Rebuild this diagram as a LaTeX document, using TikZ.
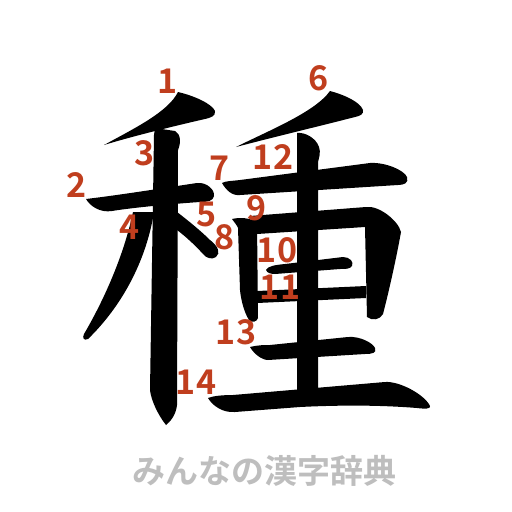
\documentclass[tikz,border=0pt]{standalone}
\usepackage{fontspec}
\newfontfamily\jpb{Noto Sans CJK JP Bold}
\definecolor{numred}{RGB}{192,62,30}
\definecolor{footgray}{RGB}{190,190,190}
\tikzset{
  strk/.style={fill=black, draw=none},
  num/.style={text=numred, font=\jpb\fontsize{34}{34}\selectfont, inner sep=0pt, anchor=center},
  foot/.style={text=footgray, font=\jpb\fontsize{33}{33}\selectfont, inner sep=0pt, anchor=center}
}
\begin{document}
\begin{tikzpicture}[x=1pt,y=-1pt]
\useasboundingbox (0,0) rectangle (512,512);
\fill[white] (0,0) rectangle (512,512);
% stroke 1
\path[strk] (178,92) .. controls (195,96) and (212,104) .. (215,111) .. controls (216,116) and (210,118) .. (205,119) .. controls (170,127) and (130,137) .. (104,145) .. controls (135,128) and (168,112) .. (178,92) -- cycle;
% stroke 2
\path[strk] (86,199) .. controls (120,195) and (170,187) .. (197,183) .. controls (207,182) and (215,190) .. (214,196) .. controls (213,201) and (208,202) .. (200,202) .. controls (170,204) and (130,208) .. (112,211) .. controls (100,213) and (90,206) .. (86,199) -- cycle;
% stroke 3
\path[strk] (155,128) -- (175,131) .. controls (181,134) and (181,143) .. (178,150) -- (177,405) .. controls (176,415) and (170,422) .. (166,425) .. controls (158,415) and (151,400) .. (150,390) -- (154,135) -- cycle;
% stroke 4
\path[strk] (154,212) .. controls (146,262) and (121,307) .. (88,339) .. controls (84,341) and (82,338) .. (84,334) .. controls (104,300) and (124,255) .. (133,212) -- cycle;
% stroke 5
\path[strk] (177,212) .. controls (190,222) and (202,232) .. (210,240) .. controls (218,246) and (221,253) .. (216,257) .. controls (212,260) and (206,258) .. (203,254) .. controls (195,245) and (185,236) .. (177,230) -- cycle;
% stroke 6
\path[strk] (330,91) .. controls (345,95) and (360,102) .. (363,110) .. controls (364,114) and (360,116) .. (355,117) .. controls (320,126) and (270,138) .. (236,147) .. controls (270,130) and (315,112) .. (330,91) -- cycle;
% stroke 7
\path[strk] (222,183) .. controls (225,181) and (232,181) .. (240,180) -- (370,163) .. controls (385,162) and (404,170) .. (407,177) .. controls (409,183) and (404,185) .. (398,185) -- (240,195) .. controls (232,196) and (226,190) .. (222,183) -- cycle;
% stroke 8
\path[strk] (232,219) .. controls (240,217) and (250,218) .. (257,222) -- (258,318) .. controls (257,322) and (252,323) .. (249,320) .. controls (244,312) and (241,300) .. (240,290) -- (238,228) .. controls (237,225) and (234,222) .. (232,219) -- cycle;
% stroke 9
\path[strk] (250,216) -- (366,207) .. controls (378,205) and (398,220) .. (401,232) .. controls (396,260) and (388,295) .. (383,314) .. controls (380,320) and (372,321) .. (367,317) -- (365,227) -- (257,234) -- cycle;
% stroke 10
\path[strk] (266,270) .. controls (268,266) and (275,265) .. (285,264) -- (343,257) .. controls (350,257) and (354,262) .. (352,266) .. controls (350,269) and (346,269) .. (340,269) -- (275,274) .. controls (271,274) and (267,273) .. (266,270) -- cycle;
% stroke 11
\path[strk] (257,291) -- (366,286) -- (366,298) -- (257,303) -- cycle;
% stroke 12
\path[strk] (297,133) .. controls (305,132) and (316,138) .. (319,147) .. controls (321,152) and (319,158) .. (318,162) -- (318,400) -- (297,400) -- cycle;
% stroke 13
\path[strk] (250,347) .. controls (258,345) and (265,345) .. (270,345) -- (348,337) .. controls (360,336) and (373,343) .. (375,348) .. controls (377,353) and (372,354) .. (365,354) -- (268,360) .. controls (262,360) and (254,354) .. (250,347) -- cycle;
% stroke 14
\path[strk] (208,398) .. controls (213,396) and (222,395) .. (233,395) -- (385,382) .. controls (400,381) and (425,395) .. (430,406) .. controls (431,409) and (425,409) .. (417,408) .. controls (380,405) and (340,405) .. (300,407) -- (235,412) .. controls (222,413) and (212,405) .. (208,398) -- cycle;
% numbers
\node[num] (n1) at (168,81) {1};
\node[num] (n2) at (77,185) {2};
\node[num] (n3) at (145,153) {3};
\node[num] (n4) at (130,227) {4};
\node[num] (n5) at (207,214) {5};
\node[num] (n6) at (319,78) {6};
\node[num] (n7) at (220,168) {7};
\node[num] (n8) at (225,237) {8};
\node[num] (n9) at (257,208) {9};
\node[num] (n10) at (277,250) {10};
\node[num] (n11) at (280,287) {11};
\node[num] (n12) at (273,157) {12};
\node[num] (n13) at (236,332) {13};
\node[num] (n14) at (196,382) {14};
\node[foot] (ft) at (264,471) {みんなの漢字辞典};
\end{tikzpicture}
\end{document}
